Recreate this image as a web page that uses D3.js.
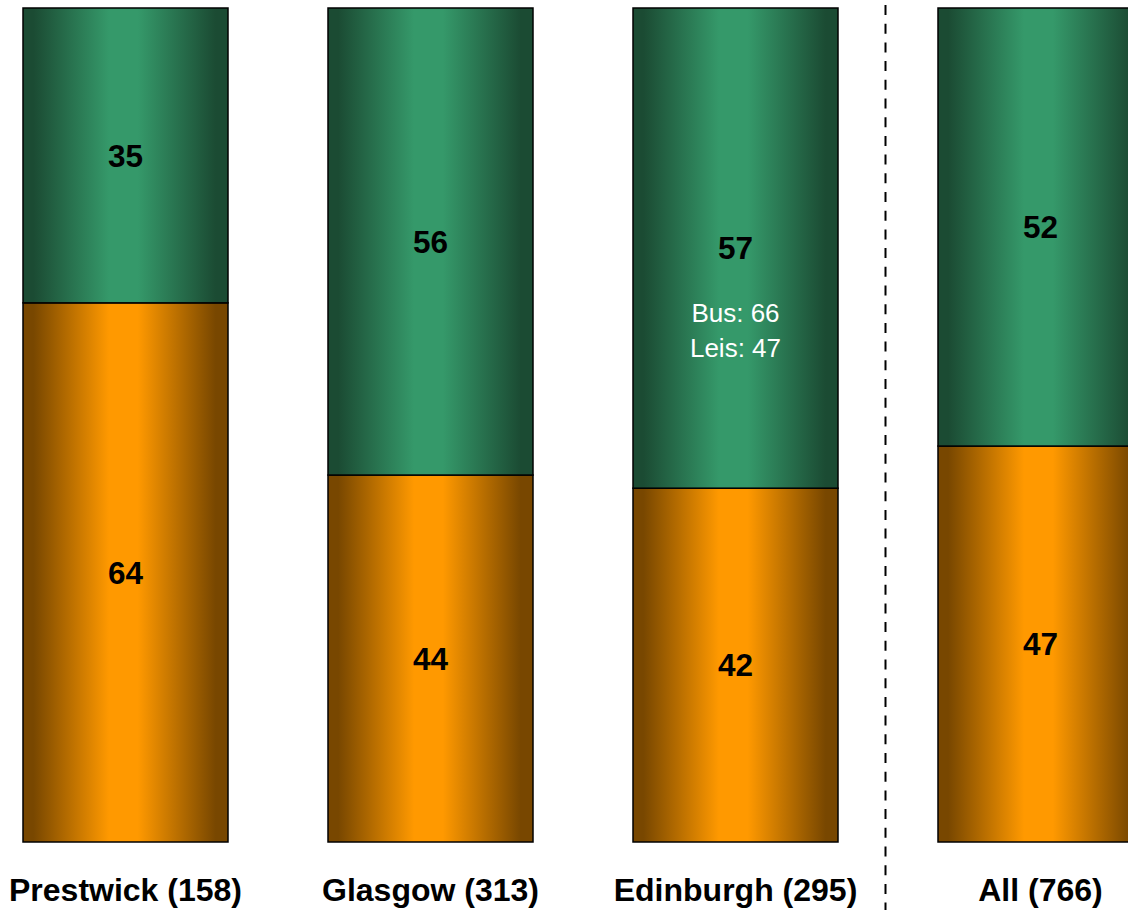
<!DOCTYPE html>
<html>
<head>
<meta charset="utf-8">
<script src="https://cdn.jsdelivr.net/npm/d3@7"></script>
<style>
  html, body { margin: 0; padding: 0; background: #fff; }
  svg { display: block; }
</style>
</head>
<body>
<svg id="chart" width="1128" height="910"></svg>
<script>
// ---- data ----
const categories = ["Prestwick (158)", "Glasgow (313)", "Edinburgh (295)", "All (766)"];
const orangeValues = [64, 44, 42, 47];
const greenValues  = [35, 56, 57, 52];
const annotationCategory = "Edinburgh (295)";
const annotationLines = ["Bus: 66", "Leis: 47"];

// ---- layout ----
const W = 1128, H = 910;
const svg = d3.select("#chart");
const font = "Arial, 'Liberation Sans', sans-serif";

const x = d3.scaleBand()
  .domain(categories)
  .range([-27, 1193])
  .paddingInner(100 / 305)
  .paddingOuter(50 / 305);

const y = d3.scaleLinear().domain([0, 1]).range([842, 8]);

// gradients
const defs = svg.append("defs");
function grad(id, edge, mid) {
  const g = defs.append("linearGradient").attr("id", id)
    .attr("x1", "0%").attr("x2", "100%").attr("y1", "0%").attr("y2", "0%");
  [[0, edge], [0.05, edge], [0.42, mid], [0.56, mid], [0.94, edge], [1, edge]]
    .forEach(([o, c]) => g.append("stop").attr("offset", o).attr("stop-color", c));
}
grad("gGreen", "#1b4b33", "#35996a");
grad("gOrange", "#784700", "#ff9900");

const rows = categories.map((c, i) => {
  const tot = orangeValues[i] + greenValues[i];
  return { c, o: orangeValues[i], g: greenValues[i], of: orangeValues[i] / tot };
});

const bars = svg.append("g").selectAll("g").data(rows).join("g");

// orange (bottom)
bars.append("rect")
  .attr("x", d => x(d.c))
  .attr("width", x.bandwidth())
  .attr("y", d => y(d.of))
  .attr("height", d => y(0) - y(d.of))
  .attr("fill", "url(#gOrange)")
  .attr("stroke", "#000").attr("stroke-width", 1.5);

// green (top)
bars.append("rect")
  .attr("x", d => x(d.c))
  .attr("width", x.bandwidth())
  .attr("y", y(1))
  .attr("height", d => y(d.of) - y(1))
  .attr("fill", "url(#gGreen)")
  .attr("stroke", "#000").attr("stroke-width", 1.5);

const fs = 31.5;
// value labels
bars.append("text")
  .attr("x", d => x(d.c) + x.bandwidth() / 2)
  .attr("y", d => (y(0) + y(d.of)) / 2 + fs * 0.36)
  .attr("text-anchor", "middle")
  .attr("font-family", font).attr("font-weight", "bold").attr("font-size", fs)
  .attr("fill", "#000")
  .text(d => d.o);

bars.append("text")
  .attr("x", d => x(d.c) + x.bandwidth() / 2)
  .attr("y", d => (y(1) + y(d.of)) / 2 + fs * 0.36)
  .attr("text-anchor", "middle")
  .attr("font-family", font).attr("font-weight", "bold").attr("font-size", fs)
  .attr("fill", "#000")
  .text(d => d.g);

// annotation
const ad = rows.find(r => r.c === annotationCategory);
const acy = (y(1) + y(ad.of)) / 2;
svg.append("g").selectAll("text").data(annotationLines).join("text")
  .attr("x", x(ad.c) + x.bandwidth() / 2)
  .attr("y", (d, i) => acy + 74 + i * 35)
  .attr("text-anchor", "middle")
  .attr("font-family", font).attr("font-size", 26)
  .attr("fill", "#fff")
  .text(d => d);

// category labels
svg.append("g").selectAll("text").data(categories).join("text")
  .attr("x", d => x(d) + x.bandwidth() / 2)
  .attr("y", 901)
  .attr("text-anchor", "middle")
  .attr("font-family", font).attr("font-weight", "bold").attr("font-size", 32)
  .attr("fill", "#000")
  .text(d => d);

// dashed separator
const sepX = (x(categories[2]) + x.bandwidth() + x(categories[3])) / 2 - 2.5;
svg.append("line")
  .attr("x1", sepX).attr("x2", sepX)
  .attr("y1", 5).attr("y2", H)
  .attr("stroke", "#000").attr("stroke-width", 2)
  .attr("stroke-dasharray", "10,8.7");
</script>
</body>
</html>
